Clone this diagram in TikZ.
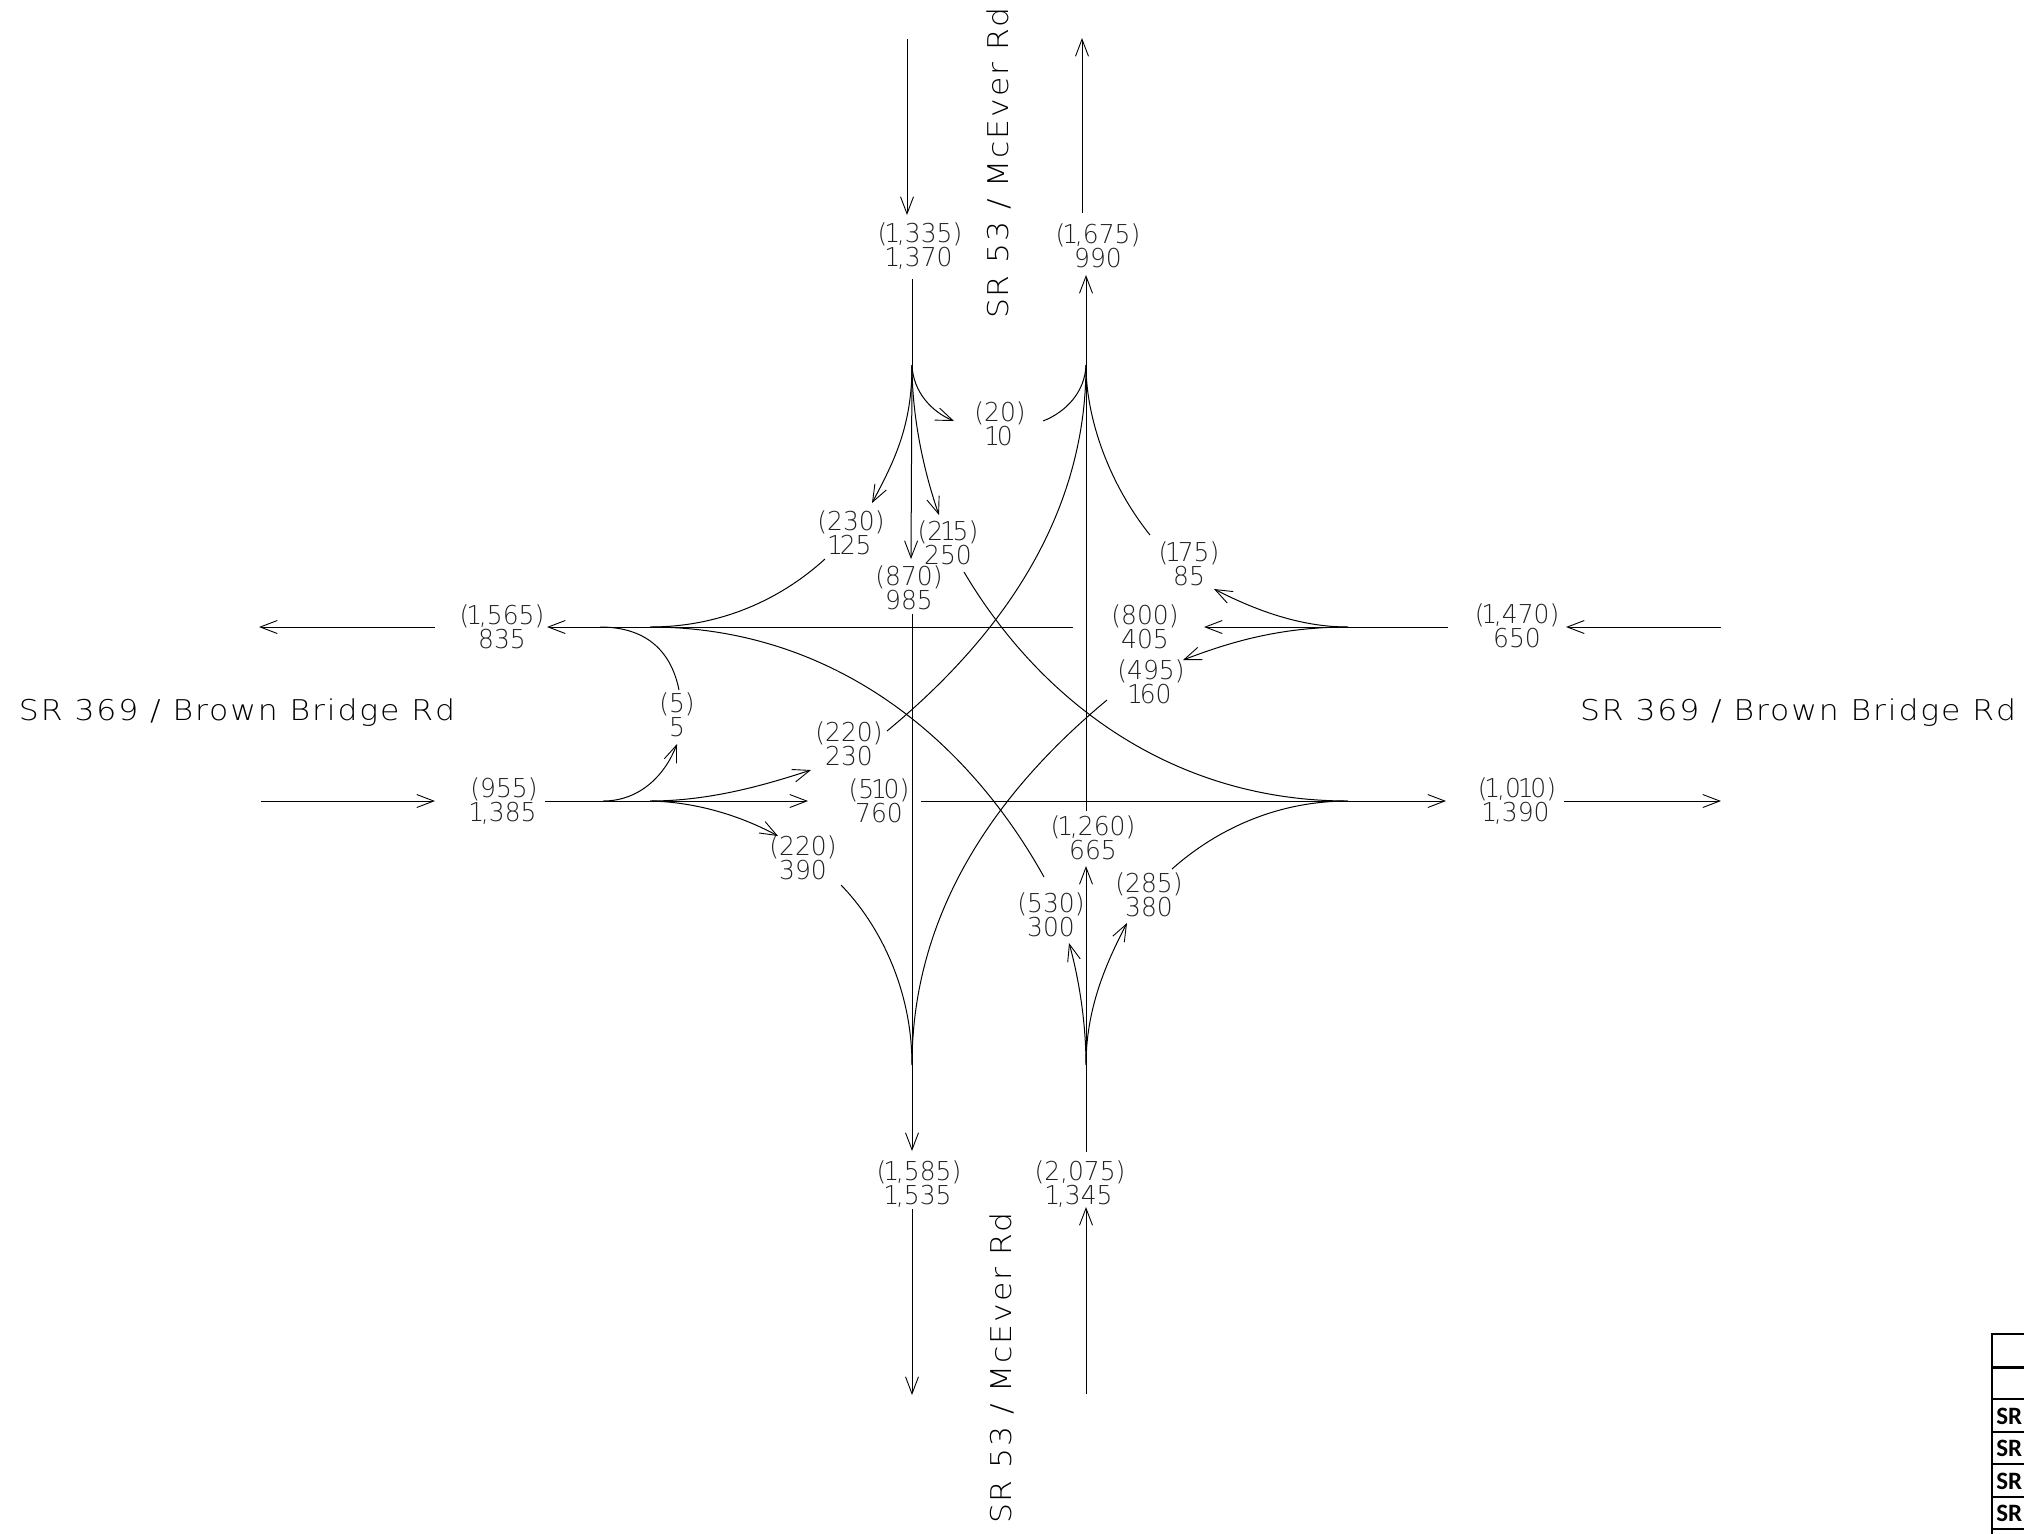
\documentclass[tikz,border=0pt]{standalone}
\usepackage{fontspec}
\usetikzlibrary{arrows.meta}
\newfontfamily\cadfont[FakeStretch=0.96]{DejaVu Sans ExtraLight}
\newfontfamily\roadfont[FakeStretch=1.1,LetterSpace=6.5]{DejaVu Sans ExtraLight}
\newfontfamily\tabfont{Carlito}
\definecolor{cadgray}{gray}{0.13}
\newcommand{\one}{\kern-1.6pt 1\kern-1.6pt\relax}
\tikzset{
  road/.style={line width=0.5pt,draw=black,line cap=butt},
  arr/.style={road,-{Straight Barb[length=8.5pt,width=6.5pt,line width=0.45pt]}},
  vol/.style={inner sep=0pt,align=center,text=cadgray,font=\cadfont\fontsize{13pt}{12pt}\selectfont},
  roadname/.style={inner sep=0pt,text=black,font=\roadfont\fontsize{14.3pt}{15pt}\selectfont},
  tabline/.style={line width=0.75pt,draw=black},
  tabhead/.style={line width=1.5pt,draw=black},
  tabtext/.style={inner sep=0pt,anchor=west,font=\tabfont\bfseries\fontsize{12.5pt}{13pt}\selectfont},
}
\begin{document}
\begin{tikzpicture}[x=0.5pt,y=-0.5pt]
\useasboundingbox (0,0) rectangle (2024,1533);
\clip (0,0) rectangle (2024,1533);

% volume labels
\node[vol] (nwin)  at (920,246)  {(\one,335)\\\one,370};
\node[vol] (neout) at (1098,246) {(\one,675)\\990};
\node[vol] (uturn) at (1000,424) {(20)\\\one 0};
\node[vol] (sbl)   at (851,533)  {(230)\\\one 25};
\node[vol] (sbr)   at (948,543)  {(2\one 5)\\250};
\node[vol] (sbt)   at (909,588)  {(870)\\985};
\node[vol] (wbr)   at (1189,564) {(\one 75)\\85};
\node[vol] (wbt)   at (1145,626.5) {(800)\\405};
\node[vol] (wbl)   at (1151,682) {(495)\\\one 60};
\node[vol] (ebl)   at (849,744)  {(220)\\230};
\node[vol] (ebt)   at (879,801)  {(5\one 0)\\760};
\node[vol] (ebr)   at (803,858)  {(220)\\390};
\node[vol] (nbt)   at (1093,838) {(\one,260)\\665};
\node[vol] (nbr)   at (1149,895) {(285)\\380};
\node[vol] (nbl)   at (1051,915) {(530)\\300};
\node[vol] (wout)  at (502,627)  {(\one,565)\\835};
\node[vol] (win)   at (504,801)  {(955)\\\one,385};
\node[vol] (ebu)   at (677,715)  {(5)\\5};
\node[vol] (ein)   at (1517,626) {(\one,470)\\650};
\node[vol] (eout)  at (1517,801) {(\one,0\one 0)\\\one,390};
\node[vol] (sout)  at (919,1184) {(\one,585)\\\one,535};
\node[vol] (sin)   at (1080,1184){(2,075)\\\one,345};

% road names
\node[roadname] (rw) at (237,713)  {SR 369 / Brown Bridge Rd};
\node[roadname] (re) at (1798,713) {SR 369 / Brown Bridge Rd};
\node[roadname,rotate=90] (rn) at (999,163)  {SR 53 / McEver Rd};
\node[roadname,rotate=90] (rs) at (1002,1368) {SR 53 / McEver Rd};

% merge points
\coordinate (mN1) at (912,365);
\coordinate (mN2) at (1086,365);
\coordinate (mS1) at (912,1065);
\coordinate (mS2) at (1086,1065);
\coordinate (mW1) at (650,627);
\coordinate (mW0) at (600,627);
\coordinate (mW2) at (650,801);
\coordinate (mW3) at (603,801);
\coordinate (mE1) at (1348,627);
\coordinate (mE2) at (1348,801);

% approach arrows outside the labels
\draw[arr] (907,39) coordinate (a1) -- (907,215) coordinate (a2);
\draw[arr] (1082,213) coordinate (b1) -- (1082,38) coordinate (b2);
\draw[arr] (435,627) coordinate (c1) -- (259,627) coordinate (c2);
\draw[arr] (261,801) coordinate (d1) -- (435,801) coordinate (d2);
\draw[arr] (1721,627) coordinate (e1) -- (1566,627) coordinate (e2);
\draw[arr] (1564,801) coordinate (f1) -- (1721,801) coordinate (f2);
\draw[arr] (912,1209) coordinate (g1) -- (912,1395) coordinate (g2);
\draw[arr] (1086,1394) coordinate (h1) -- (1086,1207) coordinate (h2);

% straight runs
\draw[road] (912,279) coordinate (n0) -- (mN1);
\draw[arr]  (mN1) -- (911,559) coordinate (n1);
\draw[arr]  (1086,811) coordinate (p0) -- (1086,275) coordinate (p1);
\draw[arr]  (1073,627) coordinate (q0) -- (547,627) coordinate (q1);
\draw[road] (1448,627) coordinate (r0) -- (mE1);
\draw[arr]  (mE1) -- (1204,627) coordinate (r1);
\draw[arr]  (545,801) coordinate (s0) -- (808,801) coordinate (s1);
\draw[arr]  (921,801) coordinate (t0) -- (1446,801) coordinate (t1);
\draw[road] (912,614) coordinate (u0) -- (mS1);
\draw[arr]  (mS1) -- (912,1151) coordinate (u1);
\draw[road] (1086,1152) coordinate (v0) -- (mS2);
\draw[arr]  (mS2) -- (1086,866) coordinate (v1);

% north side turns
\draw[arr] (mN1) .. controls (912,425) and (895,460) .. (872,503);
\draw[arr] (mN1) .. controls (912,420) and (925,475) .. (939,515);
\draw[arr] (mN1) .. controls (913,392) and (932,412) .. (954,421);
\draw[road] (mN2) .. controls (1085,392) and (1066,412) .. (1043,421);
\draw[road] (mN2) .. controls (1086,420) and (1110,485) .. (1150,535);
\draw[road] (mN2) .. controls (1086,530) and (985,650) .. (887,731);

% west side turns
\draw[road] (mW1) .. controls (720,627) and (780,600) .. (825,559);
\draw[road] (mW1) .. controls (830,627) and (965,735) .. (1044,877);
\draw[road] (mW0) .. controls (650,627) and (672,655) .. (679,690);
\draw[arr]  (mW3) .. controls (640,801) and (665,775) .. (677,744);
\draw[arr]  (mW2) .. controls (710,801) and (765,785) .. (811,770);
\draw[arr]  (mW2) .. controls (700,802) and (745,818) .. (778,836);

% east side turns
\draw[arr]  (mE1) .. controls (1300,627) and (1255,610) .. (1214,589);
\draw[arr]  (mE1) .. controls (1280,627) and (1230,642) .. (1183,660);
\draw[road] (mE2) .. controls (1173,801) and (1041,702) .. (964,572);
\draw[road] (mE2) .. controls (1270,801) and (1210,835) .. (1172,869);

% south side turns
\draw[road] (mS1) .. controls (912,898) and (1013,778) .. (1107,700);
\draw[road] (mS1) .. controls (912,990) and (880,925) .. (841,885);
\draw[arr]  (mS2) .. controls (1086,1020) and (1078,975) .. (1069,943);
\draw[arr]  (mS2) .. controls (1086,1010) and (1105,965) .. (1127,923);

% cropped table
\draw[tabline] (2030,1334) -- (1992,1334) -- (1992,1540);
\draw[tabhead] (1992,1367) -- (2030,1367);
\foreach \yy in {1399,1432,1464,1497,1529} \draw[tabline] (1992,\yy) -- (2030,\yy);
\node[tabtext] (t1) at (1996,1416) {SR};
\node[tabtext] (t2) at (1996,1448) {SR};
\node[tabtext] (t3) at (1996,1481) {SR};
\node[tabtext] (t4) at (1996,1513) {SR};
\end{tikzpicture}
\end{document}
